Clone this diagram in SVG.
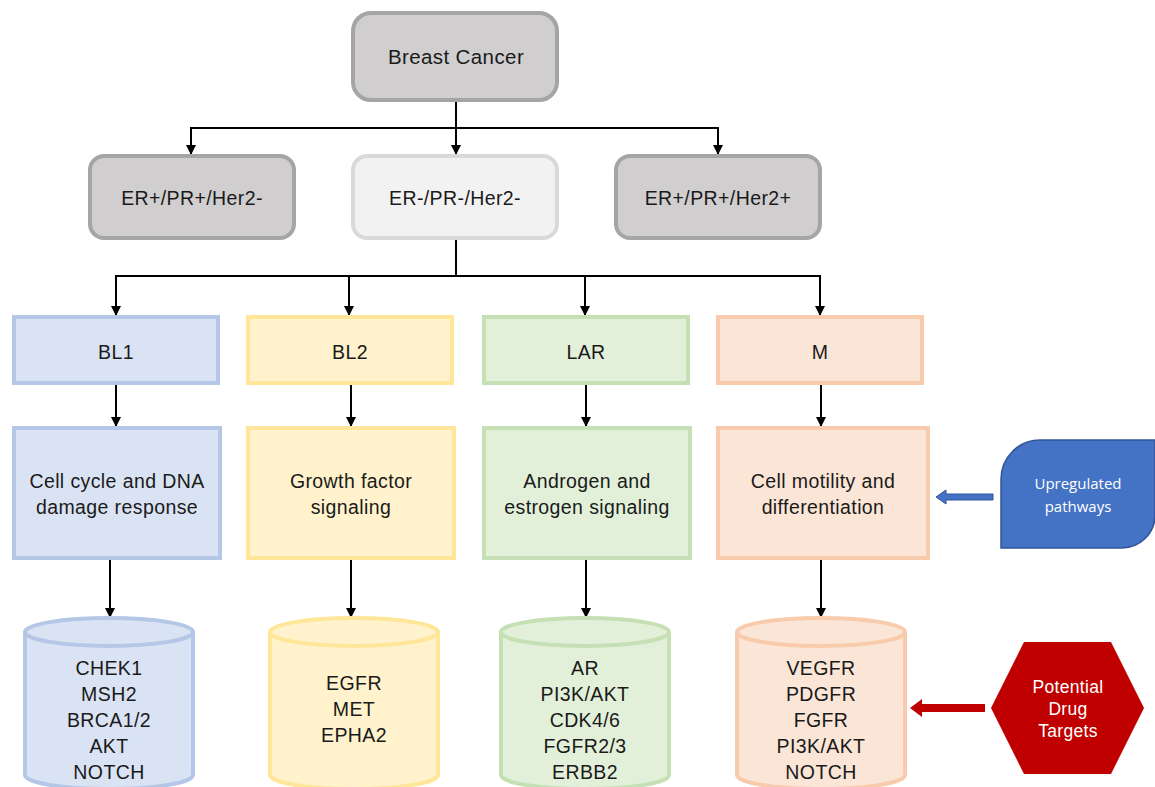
<svg xmlns="http://www.w3.org/2000/svg" width="1155" height="787" viewBox="0 0 1155 787">
<defs>
<style>
text{font-family:"Liberation Sans",Arial,sans-serif;font-size:19.5px;fill:#1a1a1a;text-anchor:middle;letter-spacing:0.4px}
.c{fill:none;stroke:#000;stroke-width:2}
.bl{fill:#dae3f3;stroke:#b4c7e7;stroke-width:4}
.y{fill:#fff2cc;stroke:#ffe699;stroke-width:4}
.g{fill:#e2f0d9;stroke:#c5e0b4;stroke-width:4}
.o{fill:#fbe5d6;stroke:#f8cbad;stroke-width:4}
.w{font-family:"Open Sans","Liberation Sans",sans-serif;font-size:15px;fill:#fff;letter-spacing:0}
.r{font-size:17.5px;fill:#fff;letter-spacing:0.3px}
</style>
<marker id="ah" viewBox="0 0 10 10" refX="10" refY="5" markerWidth="5" markerHeight="5" orient="auto"><path d="M0,0L10,5L0,10z" fill="#000"/></marker>
</defs>
<g id="connectors">
<path class="c" d="M456,100V128M191,128H718"/>
<path class="c" d="M191,127V155" marker-end="url(#ah)"/>
<path class="c" d="M456,127V155" marker-end="url(#ah)"/>
<path class="c" d="M718,127V155" marker-end="url(#ah)"/>
<path class="c" d="M456,238V276M116,276H820"/>
<path class="c" d="M116,275V316" marker-end="url(#ah)"/>
<path class="c" d="M349,275V316" marker-end="url(#ah)"/>
<path class="c" d="M585,275V316" marker-end="url(#ah)"/>
<path class="c" d="M820,275V316" marker-end="url(#ah)"/>
<path class="c" d="M116,383V427" marker-end="url(#ah)"/>
<path class="c" d="M351,383V427" marker-end="url(#ah)"/>
<path class="c" d="M586,383V427" marker-end="url(#ah)"/>
<path class="c" d="M821,383V427" marker-end="url(#ah)"/>
<path class="c" d="M110,558V618" marker-end="url(#ah)"/>
<path class="c" d="M351,558V618" marker-end="url(#ah)"/>
<path class="c" d="M586,558V618" marker-end="url(#ah)"/>
<path class="c" d="M821,558V618" marker-end="url(#ah)"/>
<path d="M993,494H946V490L936,497L946,504V500H993z" fill="#4472c4" stroke="#2f5597" stroke-width="1"/>
<path d="M985,704H922V699L910,708L922,717V712H985z" fill="#c00000"/>
</g>
<g id="breast-cancer">
<rect x="353" y="13" width="204" height="87" rx="18" fill="#d0cecf" stroke="#a5a5a5" stroke-width="4"/>
<text x="456" y="64" style="font-size:20.5px">Breast Cancer</text>
</g>
<g id="er-pos-her2-neg">
<rect x="90" y="156" width="204" height="82" rx="14" fill="#d0cecf" stroke="#a5a5a5" stroke-width="4"/>
<text x="192" y="205">ER+/PR+/Her2-</text>
</g>
<g id="triple-neg">
<rect x="353" y="156" width="204" height="82" rx="14" fill="#f2f2f2" stroke="#d9d9d9" stroke-width="4"/>
<text x="455" y="205">ER-/PR-/Her2-</text>
</g>
<g id="er-pos-her2-pos">
<rect x="616" y="156" width="204" height="82" rx="14" fill="#d0cecf" stroke="#a5a5a5" stroke-width="4"/>
<text x="718" y="205">ER+/PR+/Her2+</text>
</g>
<g id="bl1">
<rect class="bl" x="14" y="317" width="204" height="66"/>
<text x="116" y="359">BL1</text>
</g>
<g id="bl2">
<rect class="y" x="248" y="317" width="204" height="66"/>
<text x="350" y="359">BL2</text>
</g>
<g id="lar">
<rect class="g" x="484" y="317" width="204" height="66"/>
<text x="586" y="359">LAR</text>
</g>
<g id="m">
<rect class="o" x="718" y="317" width="204" height="66"/>
<text x="820" y="359">M</text>
</g>
<g id="bl1-path">
<rect class="bl" x="14" y="428" width="206" height="130"/>
<text x="117" y="488">Cell cycle and DNA</text>
<text x="117" y="514">damage response</text>
</g>
<g id="bl2-path">
<rect class="y" x="248" y="428" width="206" height="130"/>
<text x="351" y="488">Growth factor</text>
<text x="351" y="514">signaling</text>
</g>
<g id="lar-path">
<rect class="g" x="484" y="428" width="206" height="130"/>
<text x="587" y="488">Androgen and</text>
<text x="587" y="514">estrogen signaling</text>
</g>
<g id="m-path">
<rect class="o" x="718" y="428" width="210" height="130"/>
<text x="823" y="488">Cell motility and</text>
<text x="823" y="514">differentiation</text>
</g>
<g id="bl1-targets">
<path class="bl" d="M25,632V775A84,14 0 0 0 193,775V632"/>
<ellipse class="bl" cx="109" cy="632" rx="84" ry="14"/>
<text x="109" y="675">CHEK1</text>
<text x="109" y="701">MSH2</text>
<text x="109" y="727">BRCA1/2</text>
<text x="109" y="753">AKT</text>
<text x="109" y="779">NOTCH</text>
</g>
<g id="bl2-targets">
<path class="y" d="M270,632V775A84,14 0 0 0 438,775V632"/>
<ellipse class="y" cx="354" cy="632" rx="84" ry="14"/>
<text x="354" y="690">EGFR</text>
<text x="354" y="716">MET</text>
<text x="354" y="742">EPHA2</text>
</g>
<g id="lar-targets">
<path class="g" d="M501,632V775A84,14 0 0 0 669,775V632"/>
<ellipse class="g" cx="585" cy="632" rx="84" ry="14"/>
<text x="585" y="675">AR</text>
<text x="585" y="701">PI3K/AKT</text>
<text x="585" y="727">CDK4/6</text>
<text x="585" y="753">FGFR2/3</text>
<text x="585" y="779">ERBB2</text>
</g>
<g id="m-targets">
<path class="o" d="M737,632V775A84,14 0 0 0 905,775V632"/>
<ellipse class="o" cx="821" cy="632" rx="84" ry="14"/>
<text x="821" y="675">VEGFR</text>
<text x="821" y="701">PDGFR</text>
<text x="821" y="727">FGFR</text>
<text x="821" y="753">PI3K/AKT</text>
<text x="821" y="779">NOTCH</text>
</g>
<g id="upregulated">
<path d="M1040,440H1155V515A33,33 0 0 1 1122,548H1001V479A39,39 0 0 1 1040,440z" fill="#4472c4" stroke="#2f5597" stroke-width="1.5"/>
<text class="w" x="1078" y="489">Upregulated</text>
<text class="w" x="1078" y="512">pathways</text>
</g>
<g id="drug-targets">
<polygon points="991,708 1024,642 1111,642 1144,708 1111,774 1024,774" fill="#c00000"/>
<text class="r" x="1068" y="693">Potential</text>
<text class="r" x="1068" y="715">Drug</text>
<text class="r" x="1068" y="737">Targets</text>
</g>
</svg>
